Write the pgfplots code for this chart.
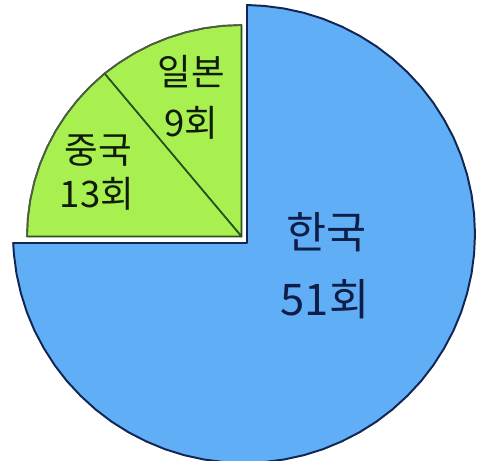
\documentclass[border=0pt]{standalone}
\usepackage{pgfplots}
\pgfplotsset{compat=1.18}
\usepackage{fontspec}
\newfontfamily\kr{Noto Sans CJK KR}

\definecolor{bluefill}{RGB}{96,174,246}
\definecolor{blueline}{RGB}{18,38,84}
\definecolor{greenfill}{RGB}{168,240,80}
\definecolor{greenline}{RGB}{40,80,28}
\definecolor{greenrim}{RGB}{80,92,70}
\definecolor{labelblue}{RGB}{14,30,72}
\definecolor{labelgreen}{RGB}{16,28,10}

\begin{document}
\begin{tikzpicture}
\begin{axis}[
  width=12cm, height=11.525cm,
  scale only axis,
  hide axis,
  xmin=0, xmax=480,
  ymin=0, ymax=461,
  y dir=reverse,
]
% 한국 51회 (pixel coordinates, y downwards)
\addplot [fill=bluefill, draw=blueline, line width=1.4pt, line join=round] coordinates {
(247,243) (247,5.0) (264.1,5.9) (284.1,8.5) (303.8,12.8) (323.0,18.8)
(341.6,26.5) (359.5,35.7) (376.5,46.4) (392.5,58.6) (407.3,72.1)
(421.0,86.8) (433.2,102.6) (444.0,119.5) (453.4,137.2) (461.1,155.7)
(467.1,174.7) (471.5,194.2) (474.1,214.0) (475,234) (474.1,254.0)
(471.5,273.8) (467.1,293.3) (461.1,312.3) (453.4,330.8) (444.0,348.5)
(433.2,365.4) (421.0,381.2) (407.3,395.9) (392.5,409.4) (376.5,421.6)
(359.5,432.3) (341.6,441.5) (323.0,449.2) (303.8,455.2) (284.1,459.5)
(264.1,462.1) (244,463) (223.9,462.1) (203.9,459.5) (184.2,455.2)
(165.0,449.2) (146.4,441.5) (128.5,432.3) (111.5,421.6) (95.5,409.4)
(80.7,395.9) (67.0,381.2) (54.8,365.4) (44.0,348.5) (34.6,330.8)
(26.9,312.3) (20.9,293.3) (16.5,273.8) (13.9,254.0) (13.2,243)
(247,243)
} -- cycle;
% 일본 9회
\addplot [fill=greenfill, draw=greenline, line width=1.2pt, line join=round] coordinates {
(241.5,236.5) (241.5,25.0) (222.8,25.8) (204.3,28.2) (186.0,32.2)
(168.1,37.8) (150.9,44.8) (134.3,53.3) (118.5,63.2) (104.5,73.5)
(241.5,236.5)
} -- cycle;
% 중국 13회
\addplot [fill=greenfill, draw=greenline, line width=1.2pt, line join=round] coordinates {
(241.5,236.5) (104.5,73.5) (89.8,86.9) (77.2,100.5) (65.8,115.2)
(55.7,130.8) (47.1,147.1) (39.9,164.2) (34.3,181.8) (30.3,199.8)
(27.8,218.1) (27.0,236.5) (241.5,236.5)
} -- cycle;
% grey rim on the green arc
\addplot [draw=greenrim, line width=1.2pt] coordinates {
(241.5,25.0) (222.8,25.8) (204.3,28.2) (186.0,32.2) (168.1,37.8)
(150.9,44.8) (134.3,53.3) (118.5,63.2) (104.5,73.5) (89.8,86.9)
(77.2,100.5) (65.8,115.2) (55.7,130.8) (47.1,147.1) (39.9,164.2)
(34.3,181.8) (30.3,199.8) (27.8,218.1) (27.0,236.5)
};

\node [font=\kr\fontsize{31}{31}\selectfont, text=labelblue] at (axis cs:326.5,232.5) {한국};
\node [font=\kr\fontsize{31}{31}\selectfont, text=labelblue] at (axis cs:325,299) {51회};
\node [font=\kr\fontsize{26}{26}\selectfont, text=labelgreen] at (axis cs:191.5,71.5) {일본};
\node [font=\kr\fontsize{26}{26}\selectfont, text=labelgreen] at (axis cs:191,123) {9회};
\node [font=\kr\fontsize{26}{26}\selectfont, text=labelgreen] at (axis cs:98.5,150.5) {중국};
\node [font=\kr\fontsize{26}{26}\selectfont, text=labelgreen] at (axis cs:97,194) {13회};
\end{axis}
\pgfresetboundingbox
\path (current axis.south west) rectangle (current axis.north east);
\end{tikzpicture}
\end{document}
